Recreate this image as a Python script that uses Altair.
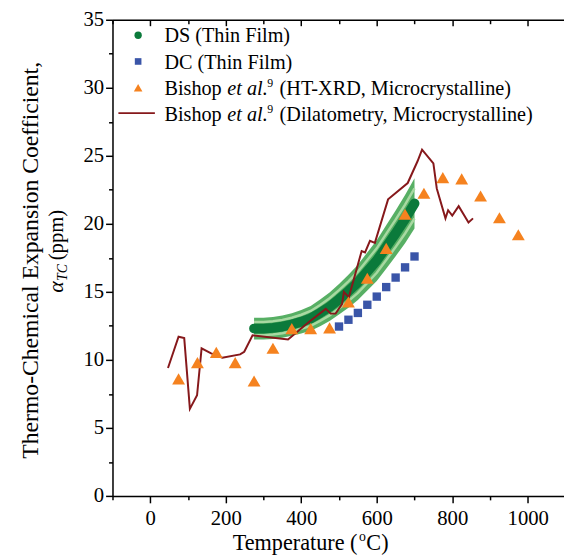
import altair as alt
import pandas as pd

FONT = "Liberation Serif"

# ---------------- data ----------------
# DS (Thin Film): dense data, centre line and envelope of the band
ds_temp = [275, 300, 325, 350, 375, 400, 425, 450, 475, 500, 525, 550, 575, 600, 625, 650, 675, 700]
ds_alpha = [12.3, 12.3, 12.35, 12.45, 12.6, 12.8, 13.05, 13.45, 13.9, 14.45, 15.05, 15.7, 16.5, 17.3, 18.3, 19.3, 20.35, 21.5]
ds_upper = [13.1, 13.1, 13.16, 13.27, 13.43, 13.66, 13.96, 14.43, 14.95, 15.57, 16.26, 17.0, 17.9, 18.8, 19.9, 20.98, 22.12, 23.35]
ds_lower = [11.5, 11.5, 11.54, 11.63, 11.77, 11.94, 12.14, 12.47, 12.85, 13.33, 13.84, 14.4, 15.1, 15.8, 16.7, 17.62, 18.58, 19.65]

# DC (Thin Film)
dc_temp = [500, 525, 550, 575, 600, 625, 650, 675, 700]
dc_alpha = [12.45, 12.95, 13.45, 14.05, 14.65, 15.35, 16.05, 16.8, 17.6]

# Bishop et al. (HT-XRD, Microcrystalline)
xrd_temp = [75, 125, 175, 225, 275, 325, 375, 425, 475, 525, 575, 625, 675, 725, 775, 825, 875, 925, 975]
xrd_alpha = [8.6, 9.8, 10.55, 9.8, 8.45, 10.85, 12.3, 12.3, 12.35, 14.25, 16.0, 18.2, 20.7, 22.25, 23.4, 23.3, 22.05, 20.45, 19.2]

# Bishop et al. (Dilatometry, Microcrystalline)
dil_temp = [47, 75, 90, 105, 124, 136, 160, 191, 238, 249, 271, 365, 395, 421, 465, 478, 491, 508, 513, 526,
            560, 569, 582, 595, 630, 682, 708, 720, 750, 759, 782, 789, 800, 817, 843, 855]
dil_alpha = [9.4, 11.7, 11.6, 6.4, 7.4, 10.85, 10.5, 10.15, 10.4, 10.6, 11.8, 11.5, 12.2, 12.8, 13.75, 13.4, 13.4, 14.1, 15.0, 14.6,
             18.0, 17.9, 18.75, 18.6, 21.8, 23.0, 24.6, 25.45, 24.45, 22.6, 20.4, 21.0, 20.6, 21.3, 20.1, 20.4]

x_major = [0, 200, 400, 600, 800, 1000]
x_minor = [-100, 100, 300, 500, 700, 900]
y_major = [0, 5, 10, 15, 20, 25, 30, 35]
y_minor = [2.5, 7.5, 12.5, 17.5, 22.5, 27.5, 32.5]

legend_labels = ["DS (Thin Film)", "DC (Thin Film)"]

# ---------------- tables ----------------
ds = pd.DataFrame({"T": ds_temp, "a": ds_alpha, "up": ds_upper, "lo": ds_lower})
ds["s_up"] = ds["a"] + 0.6 * (ds["up"] - ds["a"])
ds["s_lo"] = ds["a"] - 0.6 * (ds["a"] - ds["lo"])
dc = pd.DataFrame({"T": dc_temp, "a": dc_alpha})
xrd = pd.DataFrame({"T": xrd_temp, "a": xrd_alpha})
dil = pd.DataFrame({"T": dil_temp, "a": dil_alpha})

xs = alt.Scale(domain=[-100, 1096], nice=False, zero=False)
ys = alt.Scale(domain=[0, 35], nice=False, zero=False)

common = dict(domainColor="black", tickColor="black", domainWidth=1.5, tickWidth=1.5,
              grid=False, title=None, labelFont=FONT, labelFontSize=21, labelColor="black",
              labelFlush=False, labelOverlap=False, format="d")

ax_bottom = alt.Axis(orient="bottom", values=x_major, tickSize=7, labelPadding=5, **common)
ax_bottom_minor = alt.Axis(orient="bottom", values=x_minor, tickSize=4, labels=False, domain=False, **common)
ax_left = alt.Axis(orient="left", values=y_major, tickSize=7, labelPadding=2, **common)
ax_left_minor = alt.Axis(orient="left", values=y_minor, tickSize=4, labels=False, domain=False, **common)
ax_top = alt.Axis(orient="top", values=x_major, tickSize={"expr": "-6"}, labels=False, **common)
ax_top_minor = alt.Axis(orient="top", values=x_minor, tickSize={"expr": "-4"}, labels=False, domain=False, **common)

GREEN_BAND = "#45a653"
GREEN_PALE = "#a8d9a2"
GREEN_DARK = "#0b7a3b"
BLUE = "#3a55a8"
ORANGE = "#f5821f"
MAROON = "#86181b"

band = alt.Chart(ds).mark_area(color=GREEN_BAND, opacity=0.9).encode(
    x=alt.X("T:Q", scale=xs, axis=ax_bottom),
    y=alt.Y("lo:Q", scale=ys, axis=ax_left),
    y2="up:Q",
)
stripe_up = alt.Chart(ds).mark_line(color=GREEN_PALE, strokeWidth=2.5).encode(
    x=alt.X("T:Q", scale=xs, axis=ax_bottom_minor),
    y=alt.Y("s_up:Q", scale=ys, axis=ax_left_minor),
)
stripe_lo = alt.Chart(ds).mark_line(color=GREEN_PALE, strokeWidth=2.5).encode(
    x=alt.X("T:Q", scale=xs, axis=None),
    y=alt.Y("s_lo:Q", scale=ys, axis=None),
)
center = alt.Chart(ds).mark_line(color=GREEN_DARK, strokeWidth=10, strokeCap="round", strokeJoin="round").encode(
    x=alt.X("T:Q", scale=xs, axis=ax_top),
    y=alt.Y("a:Q", scale=ys, axis=None),
)
dil_line = alt.Chart(dil).mark_line(color=MAROON, strokeWidth=2).encode(
    x=alt.X("T:Q", scale=xs, axis=ax_top_minor),
    y=alt.Y("a:Q", scale=ys, axis=None),
)
dc_pts = alt.Chart(dc).mark_point(shape="square", filled=True, size=72, color=BLUE, opacity=1).encode(
    x=alt.X("T:Q", scale=xs, axis=None),
    y=alt.Y("a:Q", scale=ys, axis=None),
)
xrd_pts = alt.Chart(xrd).mark_point(shape="triangle-up", filled=True, size=170, color=ORANGE, opacity=1).encode(
    x=alt.X("T:Q", scale=xs, axis=None),
    y=alt.Y("a:Q", scale=ys, axis=None),
)


def txt(rows, size, style="normal", angle=0, align="left", baseline="alphabetic"):
    df = pd.DataFrame(rows, columns=["t", "px", "py"])
    return alt.Chart(df).mark_text(font=FONT, fontSize=size, fontStyle=style, angle=angle,
                                   align=align, baseline=baseline, color="black").encode(
        x=alt.X("px:Q", scale=None, axis=None),
        y=alt.Y("py:Q", scale=None, axis=None),
        text="t:N",
    )


one = pd.DataFrame({"k": [0]})

def sym(shape, color, size, yy):
    return alt.Chart(one).mark_point(shape=shape, filled=True, size=size, color=color, opacity=1).encode(
        x=alt.value(26), y=alt.value(yy))

leg_sym = [
    sym("circle", GREEN_DARK, 55, 15.7),
    sym("square", BLUE, 45, 42.3),
    sym("triangle-up", ORANGE, 75, 69),
    alt.Chart(one).mark_rule(color=MAROON, strokeWidth=2).encode(x=alt.value(6), x2=alt.value(43), y=alt.value(94.7)),
]

leg_normal = txt([(legend_labels[0], 52.7, 23), (legend_labels[1], 52.7, 49.5),
                  ("Bishop", 52.7, 76), ("(HT-XRD, Microcrystalline)", 169.5, 76),
                  ("Bishop", 52.7, 102.5), ("(Dilatometry, Microcrystalline)", 169.5, 102.5)], 20.5)
leg_italic = txt([("et al.", 116.5, 76), ("et al.", 116.5, 102.5)], 20.5, style="italic")
leg_sup = txt([("9", 157, 68.5), ("9", 157, 95)], 12)

ytitle1 = txt([("Thermo-Chemical Expansion Coefficient,", -83, 244)], 24, angle=270, align="center", baseline="middle")
ytitle_a = txt([("α", -50, 277)], 22, style="italic", angle=270)
ytitle_tc = txt([("TC", -46, 265)], 14, style="italic", angle=270)
ytitle_p = txt([("(ppm)", -50, 244)], 21, angle=270)

xtitle_main = txt([("Temperature (", 122, 538), ("C)", 257.5, 538)], 22.5)
xtitle_o = txt([("o", 250, 529)], 14)

chart = alt.layer(
    band, stripe_up, stripe_lo, center, dil_line, dc_pts, xrd_pts,
    *leg_sym, leg_normal, leg_italic, leg_sup,
    ytitle1, ytitle_a, ytitle_tc, ytitle_p, xtitle_main, xtitle_o,
).resolve_axis(x="independent", y="independent").properties(
    width=458, height=483,
    autosize=alt.AutoSizeParams(type="none"),
    padding={"left": 106, "top": 8, "right": 0, "bottom": 56},
).configure_view(strokeWidth=0).configure(background="white")

chart.save("out.html", embed_options={"renderer": "svg", "actions": False})
